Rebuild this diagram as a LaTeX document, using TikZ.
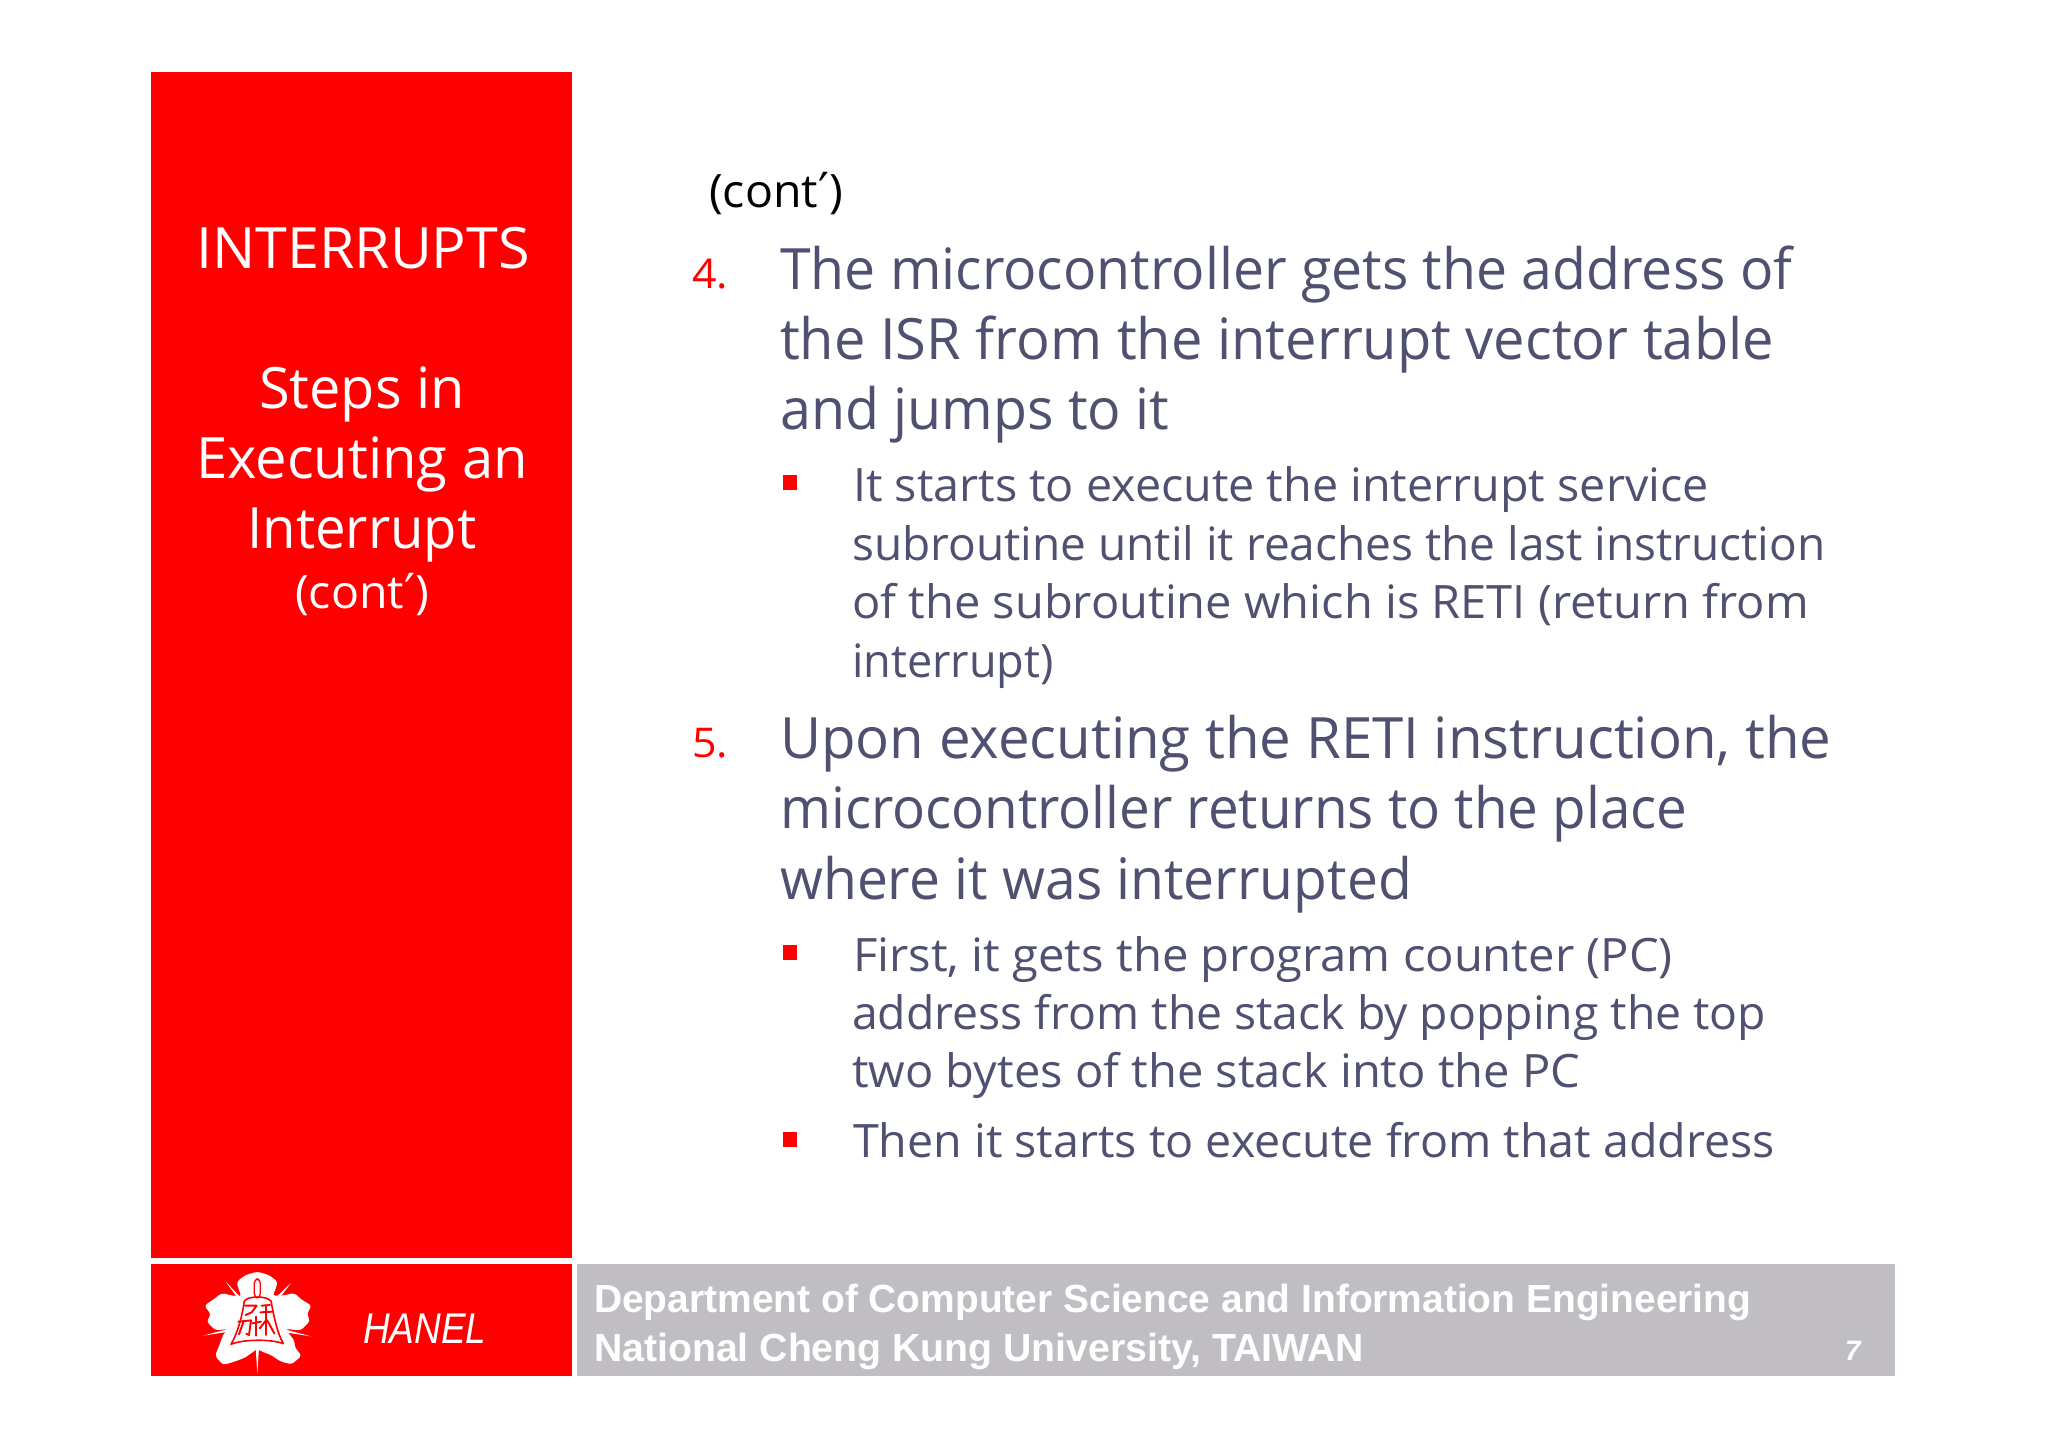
\documentclass[tikz,border=0pt]{standalone}
\usepackage{fontspec}
\usepackage{graphicx}
\setmainfont{Open Sans}
\newfontfamily\arialb{Liberation Sans}[BoldFont={Liberation Sans Bold}]
\newfontfamily\djfont{DejaVu Sans}
\newcommand{\prm}{{\djfont\scalebox{1.05}{′}}}
\newcommand{\sx}[2]{\scalebox{#1}[1]{#2}}
\definecolor{slate}{RGB}{80,80,112}
\definecolor{barg}{RGB}{192,190,194}
\tikzset{
 x=1pt,y=-1pt,
 big/.style={anchor=base west,inner sep=0,text=slate,font=\fontsize{57}{57}\selectfont},
 sub/.style={anchor=base west,inner sep=0,text=slate,font=\fontsize{46}{46}\selectfont},
 num/.style={anchor=base west,inner sep=0,text=red,font=\fontsize{41}{41}\selectfont},
 side/.style={anchor=base,inner sep=0,text=white,font=\fontsize{57}{57}\selectfont},
 foot/.style={anchor=base west,inner sep=0,text=white,font=\arialb\bfseries\fontsize{39.2}{39.2}\selectfont},
 logoline/.style={draw=red,line cap=round,line join=round},
 seal/.style={draw=red,line width=1.9pt,line cap=round,line join=round},
 ray/.style={fill=white},
}
\newcommand{\sq}[1]{\fill[red] (782.5,#1) rectangle ++(14.5,15);}
\begin{document}
\begin{tikzpicture}
\useasboundingbox (0,0) rectangle (2048,1448);
\fill[white] (0,0) rectangle (2048,1448);
\fill[red] (151,72) rectangle (572,1258.3);
\fill[red] (151,1263.5) rectangle (572,1375.5);
\fill[barg] (577,1263.5) rectangle (1895,1375.5);
\node[side] (s1) at (363,268) {\sx{1.008}{INTERRUPTS}};
\node[side] (s2) at (362,408) {\sx{.98}{Steps in}};
\node[side] (s3) at (362,478) {\sx{.985}{Executing an}};
\node[side] (s4) at (362,548) {\sx{.955}{Interrupt}};
\node[side,font=\fontsize{46}{46}\selectfont] (s5) at (362,608) {\sx{1.01}{(cont\prm)}};
\node[anchor=base west,inner sep=0,font=\fontsize{46}{46}\selectfont] (c) at (709,207) {\sx{1.01}{(cont\prm)}};
\node[num] (n4) at (692,288) {\sx{1.05}{4.}};
\node[big] (a1) at (780,289) {\sx{.971}{The microcontroller gets the address of}};
\node[big] (a2) at (780,359) {\sx{.983}{the ISR from the interrupt vector table}};
\node[big] (a3) at (780,429) {\sx{.974}{and jumps to it}};
\sq{475}
\node[sub] (b1) at (853,501) {\sx{1.015}{It starts to execute the interrupt service}};
\node[sub] (b2) at (852,560) {\sx{1.0}{subroutine until it reaches the last instruction}};
\node[sub] (b3) at (852,618) {\sx{1.022}{of the subroutine which is RETI (return from}};
\node[sub] (b4) at (852,677) {\sx{.98}{interrupt)}};
\node[num] (n5) at (692,757) {\sx{1.05}{5.}};
\node[big] (d1) at (780,758) {\sx{.989}{Upon executing the RETI instruction, the}};
\node[big] (d2) at (780,828) {\sx{.961}{microcontroller returns to the place}};
\node[big] (d3) at (780,899) {\sx{.968}{where it was interrupted}};
\sq{945}
\node[sub] (e1) at (853,971) {\sx{1.026}{First, it gets the program counter (PC)}};
\node[sub] (e2) at (852,1029) {\sx{1.007}{address from the stack by popping the top}};
\node[sub] (e3) at (852,1087) {\sx{1.022}{two bytes of the stack into the PC}};
\sq{1132}
\node[sub] (e4) at (853,1157) {\sx{1.013}{Then it starts to execute from that address}};
\node[foot] (f1) at (594,1312) {\sx{.993}{Department of Computer Science and Information Engineering}};
\node[foot] (f2) at (594,1361) {National Cheng Kung University, TAIWAN};
\node[anchor=base,inner sep=0,text=white,font=\arialb\bfseries\itshape\fontsize{28}{28}\selectfont] (pg) at (1853,1360) {7};
\node[anchor=base west,inner sep=0,text=white,font=\arialb\itshape\fontsize{43}{43}\selectfont] (h) at (363,1343) {\sx{.86}{HANEL}};
% logo
\begin{scope}[shift={(195,1265)},x=.3333pt,y=-.3333pt]
 \fill[white,rounded corners=3pt] (187,20) -- (222,30) -- (248,50) -- (240,78) -- (232,92) -- (262,92) -- (298,84) -- (320,104) -- (350,122) -- (336,146) -- (345,168) -- (318,196) -- (270,192) -- (298,226) -- (300,248) -- (320,272) -- (290,298) -- (258,290) -- (228,270) -- (196,258) -- (187,250) -- (178,258) -- (150,278) -- (118,290) -- (84,300) -- (60,272) -- (72,244) -- (84,210) -- (98,192) -- (62,196) -- (35,170) -- (48,148) -- (28,122) -- (60,100) -- (80,84) -- (112,92) -- (140,94) -- (132,76) -- (125,50) -- (152,30) -- cycle;
 % rays
 \fill[ray] (92,50) -- (136,96) -- (130,102) -- cycle;
 \fill[ray] (288,54) -- (250,104) -- (242,98) -- cycle;
 \fill[ray] (24,212) -- (100,192) -- (102,200) -- cycle;
 \fill[ray] (348,214) -- (272,194) -- (270,202) -- cycle;
 \fill[ray] (187,326) -- (182,248) -- (192,248) -- cycle;
 % bell
 \draw[logoline,line width=1.6pt,fill=white] (148,108) .. controls (160,92) and (214,92) .. (228,108) .. controls (236,150) and (245,200) .. (265,236) .. controls (230,222) and (145,222) .. (108,238) .. controls (130,200) and (142,150) .. (148,108) -- cycle;
 \draw[logoline,line width=1.3pt,fill=white,rounded corners=4pt] (178,98) -- (178,42) -- (196,42) -- (196,98) -- cycle;
 % seal strokes
 \draw[seal] (150,122) -- (185,122) -- (170,142) -- (152,150);
 \draw[seal] (200,122) -- (225,120);
 \draw[seal] (196,142) -- (232,140);
 \draw[seal] (214,122) -- (214,210);
 \draw[seal] (214,165) -- (194,190);
 \draw[seal] (216,165) -- (238,205);
 \draw[seal] (130,170) -- (168,166) -- (162,210) -- (154,206);
 \draw[seal] (146,168) -- (132,208);
 \draw[seal] (184,155) -- (184,212);
 \draw[seal] (172,175) -- (198,170);
\end{scope}
\end{tikzpicture}
\end{document}
